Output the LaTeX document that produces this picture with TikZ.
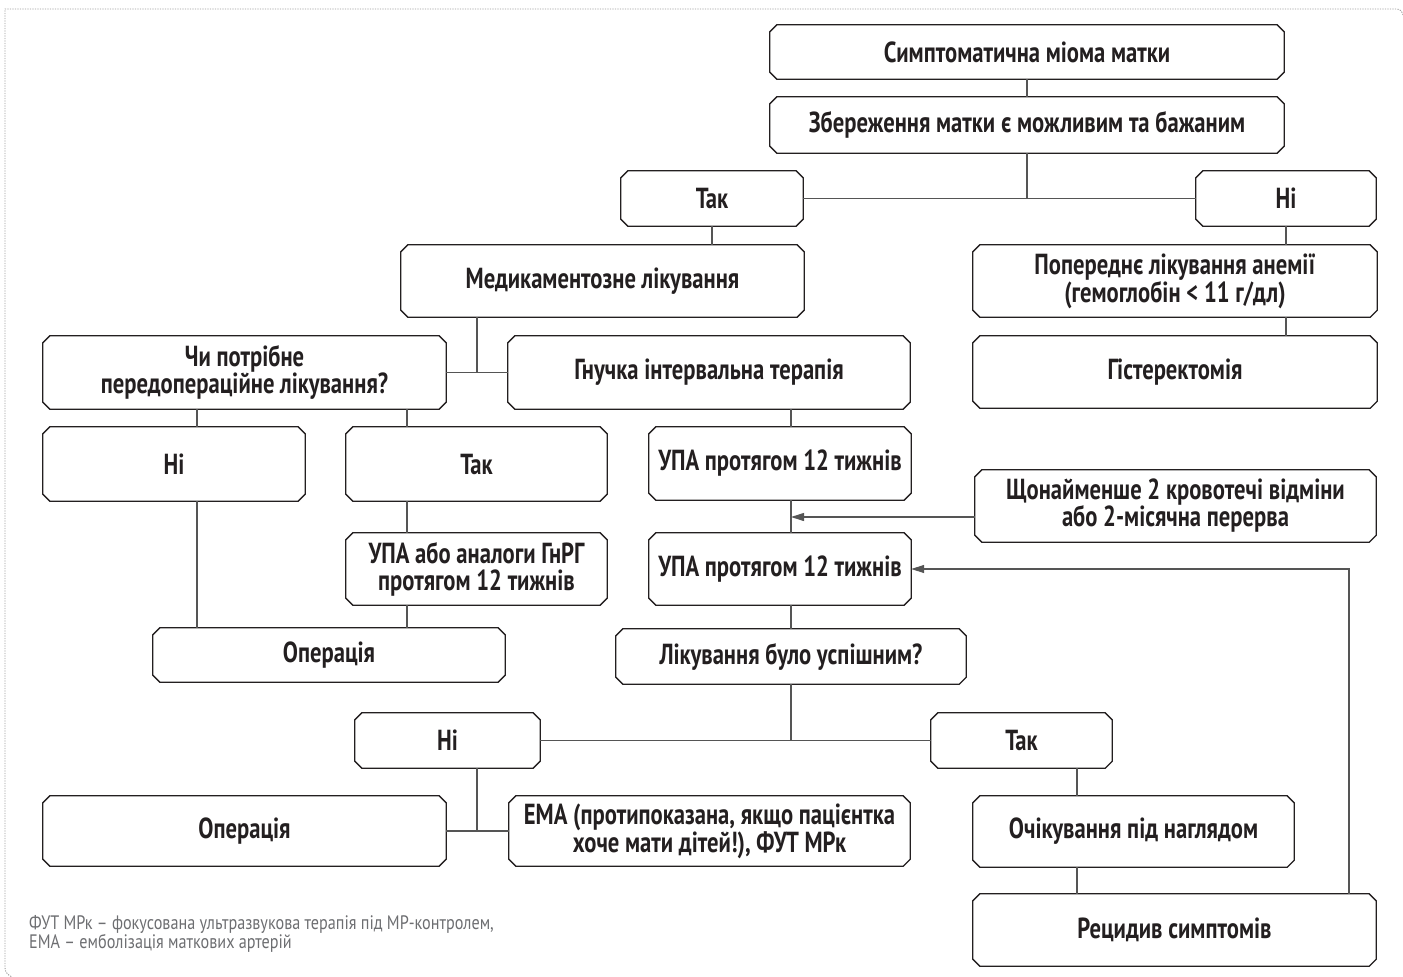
\documentclass[tikz,border=0pt]{standalone}
\usepackage{fontspec}
\setmainfont{PT Sans}[FakeStretch=0.78]
\newfontfamily\notefont{PT Sans}[FakeStretch=0.83]
\usetikzlibrary{arrows.meta,calc}
\definecolor{ink}{HTML}{231F20}
\definecolor{conn}{HTML}{555555}
\definecolor{note}{HTML}{6D6E71}
\definecolor{frame}{HTML}{9A9A9A}
\tikzset{
  box/.style={rectangle, draw=none, inner sep=0pt, align=center, text=ink,
    font=\fontsize{29}{27}\selectfont\bfseries},
  boxline/.style={draw=ink, line width=1.3pt, line join=miter},
  conn/.style={draw=conn, line width=1.1pt},
  arr/.style={conn, -{Triangle[length=13pt,width=8pt]}},
  framel/.style={draw=frame, line width=0.9pt, dash pattern=on 1.2pt off 1.3pt},
  notetext/.style={inner sep=0pt, text=note, anchor=base west,
    font=\notefont\fontsize{19.5}{19}\selectfont}
}
\newcommand{\bx}[6]{%
  \node[box, minimum width={#3-#2}, minimum height={#5-#4}] (#1) at ({(#2+#3)/2},{(#4+#5)/2}) {#6};}
\newcommand{\chamf}[1]{%
  \draw[boxline] ($(#1.north west)+(7,0)$) -- ($(#1.north east)+(-7,0)$) -- ($(#1.north east)+(0,7)$)
  -- ($(#1.south east)+(0,-7)$) -- ($(#1.south east)+(-7,0)$) -- ($(#1.south west)+(7,0)$)
  -- ($(#1.south west)+(0,-7)$) -- ($(#1.north west)+(0,7)$) -- cycle;}
\begin{document}
\begin{tikzpicture}[x=1pt,y=-1pt]
\useasboundingbox (0,0) rectangle (1403,977);
% frame
\draw[framel] (1403,15) .. controls (1402,11) and (1400,9) .. (1396,9) -- (5,9) -- (5,968)
  .. controls (5,972) and (8,975) .. (12,977);
% boxes
\bx{s1}{770}{1284}{25}{79}{Симптоматична міома матки}
\bx{s2}{770}{1284}{97}{153}{Збереження матки є можливим та бажаним}
\bx{tak1}{621}{803}{171}{226}{Так}
\bx{ni1}{1196}{1376}{171}{226}{Ні}
\bx{med}{401}{804}{245}{317}{Медикаментозне лікування}
\bx{anem}{973}{1377}{245}{317}{Попереднє лікування анемії\\(гемоглобін < 11 г/дл)}
\bx{hyst}{973}{1377}{336}{408}{Гістеректомія}
\bx{chy}{43}{446}{336}{409}{Чи потрібне\\передопераційне лікування?}
\bx{hnu}{508}{910}{336}{409}{Гнучка інтервальна терапія}
\bx{ni2}{43}{305}{427}{501}{Ні}
\bx{tak2}{346}{607}{427}{501}{Так}
\bx{upa1}{649}{911}{427}{500}{УПА протягом 12 тижнів}
\bx{shch}{975}{1376}{470}{542}{Щонайменше 2 кровотечі відміни\\або 2-місячна перерва}
\bx{upa2}{649}{911}{533}{605}{УПА протягом 12 тижнів}
\bx{upag}{346}{607}{533}{605}{УПА або аналоги ГнРГ\\протягом 12 тижнів}
\bx{op1}{153}{505}{628}{682}{Операція}
\bx{lik}{616}{966}{629}{684}{Лікування було успішним?}
\bx{ni3}{355}{540}{713}{768}{Ні}
\bx{tak3}{931}{1112}{713}{768}{Так}
\bx{op2}{43}{446}{796}{866}{Операція}
\bx{ema}{509}{910}{796}{866}{ЕМА (протипоказана, якщо пацієнтка\\хоче мати дітей!), ФУТ МРк}
\bx{och}{973}{1294}{796}{867}{Очікування під наглядом}
\bx{rec}{973}{1376}{894}{966}{Рецидив симптомів}
\foreach \n in {s1,s2,tak1,ni1,med,anem,hyst,chy,hnu,ni2,tak2,upa1,shch,upa2,upag,op1,lik,ni3,tak3,op2,ema,och,rec}
  {\chamf{\n}}
% connectors
\draw[conn] (s1.south) -- (s2.north);
\draw[conn] (s2.south) -- (s2.south |- tak1.east);
\draw[conn] (tak1.east) -- (ni1.west);
\draw[conn] (tak1.south) -- (tak1.south |- med.north);
\draw[conn] (ni1.south) -- (ni1.south |- anem.north);
\draw[conn] (anem.south -| ni1.south) -- (hyst.north -| ni1.south);
\coordinate (m1) at ($(chy.east)!.5!(hnu.west)$);
\draw[conn] (m1 |- med.south) -- (m1);
\draw[conn] (chy.east) -- (hnu.west);
\coordinate (xa) at (197,0);
\coordinate (xb) at (407,0);
\draw[conn] (xa |- chy.south) -- (xa |- ni2.north);
\draw[conn] (xa |- ni2.south) -- (xa |- op1.north);
\draw[conn] (xb |- chy.south) -- (xb |- tak2.north);
\draw[conn] (xb |- tak2.south) -- (xb |- upag.north);
\draw[conn] (xb |- upag.south) -- (xb |- op1.north);
\coordinate (xc) at (lik.north);
\draw[conn] (xc |- hnu.south) -- (xc |- upa1.north);
\draw[conn] (xc |- upa1.south) -- (xc |- upa2.north);
\draw[conn] (xc |- upa2.south) -- (lik.north);
\coordinate (ar1) at (791,517);
\draw[arr] (shch.west |- ar1) -- (ar1);
\draw[conn] (lik.south) -- (lik.south |- ni3.east);
\draw[conn] (ni3.east) -- (tak3.west);
\coordinate (xd) at (477,831);
\draw[conn] (xd |- ni3.south) -- (xd);
\draw[conn] (op2.east) -- (ema.west);
\coordinate (xe) at (1077,0);
\draw[conn] (xe |- tak3.south) -- (xe |- och.north);
\draw[conn] (xe |- och.south) -- (xe |- rec.north);
\coordinate (xf) at (1349,0);
\draw[arr] (xf |- rec.north) -- (xf |- upa2.east) -- (upa2.east);
% note
\node[notetext] (fn1) at (29,929) {ФУТ МРк – фокусована ультразвукова терапія під МР-контролем,};
\node[notetext] (fn2) at (29,948) {ЕМА – емболізація маткових артерій};
\end{tikzpicture}
\end{document}
